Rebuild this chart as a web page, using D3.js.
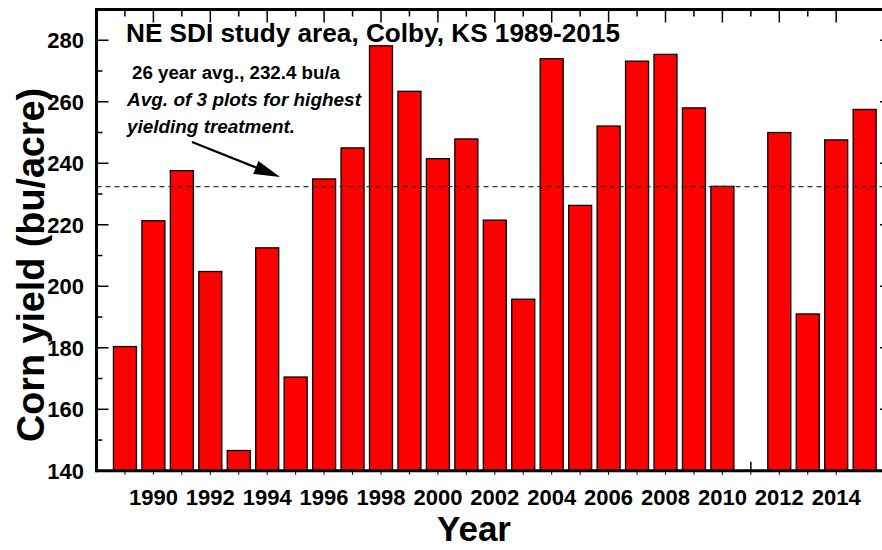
<!DOCTYPE html>
<html><head><meta charset="utf-8">
<script src="https://cdn.jsdelivr.net/npm/d3@7"></script>
<style>body{margin:0;background:#fff}svg{display:block}text{font-family:"Liberation Sans",Arial,sans-serif;font-weight:bold;fill:#000}</style>
</head><body><svg id="c" width="882" height="550"></svg>
<script>
const years = [1989,1990,1991,1992,1993,1994,1995,1996,1997,1998,1999,2000,2001,2002,2003,2004,2005,2006,2007,2008,2009,2010,2011,2012,2013,2014,2015];
const yields = [180.4,221.3,237.6,204.8,146.6,212.5,170.5,234.9,245.0,278.2,263.4,241.5,247.9,221.5,195.8,274.0,226.3,252.1,273.2,275.4,258.0,232.5,null,250.0,191.0,247.6,257.5];
const average = 232.4;
const yTickLabels = [140,160,180,200,220,240,260,280];
const xTickLabels = [1990,1992,1994,1996,1998,2000,2002,2004,2006,2008,2010,2012,2014];
const titleText = "NE SDI study area, Colby, KS 1989-2015";
const noteLines = ["26 year avg., 232.4 bu/a","Avg. of 3 plots for highest","yielding treatment."];

const svg = d3.select("#c");
const x = d3.scaleLinear().domain([1988, 2016]).range([96.5, 893.1]);
const y = d3.scaleLinear().domain([140, 290]).range([470.8, 9.5]);
const L = x(1988), R = x(2016), T = y(290), B = y(140);
const bw = 23;

// inward ticks (drawn under bars)
const tickG = svg.append("g").attr("stroke","#000").attr("stroke-width",1.5);
const xt = d3.range(1989, 2015);
xt.forEach(v=>{
  const major = v%2===0;
  tickG.append("line").attr("x1",x(v)).attr("x2",x(v)).attr("y1",B).attr("y2",B-(major?14:9));
  tickG.append("line").attr("x1",x(v)).attr("x2",x(v)).attr("y1",B).attr("y2",B+4).attr("stroke-width",1);
  tickG.append("line").attr("x1",x(v)).attr("x2",x(v)).attr("y1",T).attr("y2",T+(major?13:7));
});
d3.range(150, 290, 10).forEach(v=>{
  const major = v%20===0;
  tickG.append("line").attr("x1",L).attr("x2",L+(major?12:6)).attr("y1",y(v)).attr("y2",y(v));
  tickG.append("line").attr("x1",R).attr("x2",R-(major?13:6)).attr("y1",y(v)).attr("y2",y(v));
});

// bars
const data = years.map((yr,i)=>({yr, v: yields[i]})).filter(d=>d.v!=null);
svg.append("g").selectAll("rect").data(data).join("rect")
  .attr("x", d=>x(d.yr)-bw/2).attr("width", bw)
  .attr("y", d=>y(d.v)).attr("height", d=>B-y(d.v))
  .attr("fill","#ff0000").attr("stroke","#000").attr("stroke-width",1.3);

// average line
svg.append("line").attr("x1",L).attr("x2",882).attr("y1",y(average)).attr("y2",y(average))
  .attr("stroke","#333").attr("stroke-width",1.3).attr("stroke-dasharray","5,4");

// frame
const fr = svg.append("g").attr("stroke","#000").attr("stroke-width",3).attr("fill","none");
fr.append("line").attr("x1",L).attr("x2",R).attr("y1",T).attr("y2",T);
fr.append("line").attr("x1",L).attr("x2",R).attr("y1",B).attr("y2",B);
fr.append("line").attr("x1",L).attr("x2",L).attr("y1",T-1.5).attr("y2",B+1.5);
fr.append("line").attr("x1",R).attr("x2",R).attr("y1",T-1.5).attr("y2",B+1.5);

// tick labels
svg.append("g").selectAll("text").data(yTickLabels).join("text")
  .attr("x", 84).attr("y", d=>y(d)).attr("dy","0.36em").attr("text-anchor","end")
  .attr("font-size",22).text(d=>d);
svg.append("g").selectAll("text").data(xTickLabels).join("text")
  .attr("x", d=>x(d)).attr("y", 505).attr("text-anchor","middle")
  .attr("font-size",22).text(d=>d);

// axis titles
svg.append("text").attr("x",474).attr("y",541).attr("text-anchor","middle").attr("font-size",35).text("Year");
svg.append("text").attr("transform","translate(44,265) rotate(-90)").attr("text-anchor","middle")
  .attr("font-size",38).attr("textLength",354).attr("lengthAdjust","spacingAndGlyphs").text("Corn yield (bu/acre)");

// title and notes
svg.append("text").attr("x",126).attr("y",42).attr("font-size",26)
  .attr("textLength",494).attr("lengthAdjust","spacingAndGlyphs").text(titleText);
svg.append("text").attr("x",132).attr("y",79).attr("font-size",18)
  .attr("textLength",208).attr("lengthAdjust","spacingAndGlyphs").text(noteLines[0]);
svg.append("text").attr("x",127).attr("y",106).attr("font-size",18).attr("font-style","italic")
  .attr("textLength",234).attr("lengthAdjust","spacingAndGlyphs").text(noteLines[1]);
svg.append("text").attr("x",127).attr("y",133).attr("font-size",18).attr("font-style","italic")
  .attr("textLength",168).attr("lengthAdjust","spacingAndGlyphs").text(noteLines[2]);

// arrow
const ax1=192, ay1=142, ax2=280, ay2=177;
const ang = Math.atan2(ay2-ay1, ax2-ax1), hl=26, hw=7;
const bx = ax2-hl*Math.cos(ang), by = ay2-hl*Math.sin(ang);
svg.append("line").attr("x1",ax1).attr("y1",ay1).attr("x2",bx).attr("y2",by).attr("stroke","#000").attr("stroke-width",2.2);
svg.append("polygon").attr("fill","#000").attr("points",[
  [ax2,ay2],[bx+hw*Math.sin(ang), by-hw*Math.cos(ang)],[bx-hw*Math.sin(ang), by+hw*Math.cos(ang)]
].map(p=>p.join(",")).join(" "));
</script></body></html>
